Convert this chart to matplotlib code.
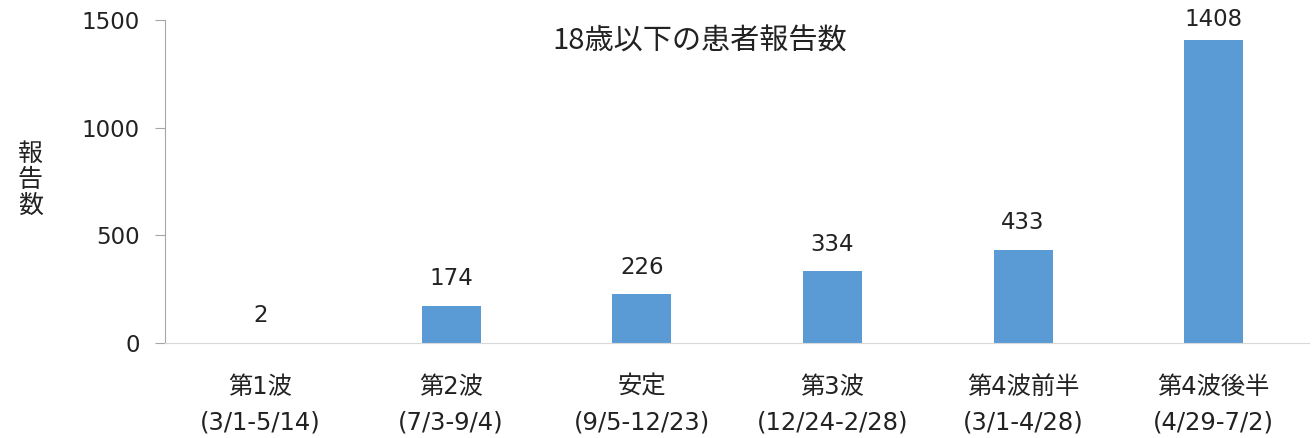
import matplotlib
matplotlib.use('Agg')
import matplotlib.pyplot as plt

plt.rcParams['font.family'] = ['DejaVu Sans', 'Noto Sans CJK JP']

# データ
periods = ['第1波', '第2波', '安定', '第3波', '第4波前半', '第4波後半']
ranges = ['(3/1-5/14)', '(7/3-9/4)', '(9/5-12/23)', '(12/24-2/28)', '(3/1-4/28)', '(4/29-7/2)']
counts = [2, 174, 226, 334, 433, 1408]

fig = plt.figure(figsize=(13.12, 4.38), dpi=100)
ax = fig.add_axes([0.1258, 0.217, 0.872, 0.737])

x = list(range(len(counts)))
ax.bar(x, counts, width=0.31, color='#5b9bd5')

# ラベルはプロット領域内に収める
for xi, v in zip(x, counts):
    ax.text(xi, min(v + 72, 1450), str(v), ha='center', va='bottom',
            fontsize=16.5, color='#222222')

ax.set_xlim(-0.5, len(counts) - 0.5)
ax.set_ylim(0, 1500)
ax.set_yticks([0, 500, 1000, 1500])
ax.tick_params(axis='y', labelsize=16.5, length=7, color='#a6a6a6', pad=11,
               labelcolor='#222222')
ax.set_xticks(x)
ax.set_xticklabels([p + '\n' + r for p, r in zip(periods, ranges)],
                   fontsize=17.5, linespacing=1.6, color='#222222')
ax.tick_params(axis='x', length=0, pad=23)

ax.spines['top'].set_visible(False)
ax.spines['right'].set_visible(False)
ax.spines['left'].set_color('#a6a6a6')
ax.spines['bottom'].set_color('#d9d9d9')

ax.text(0.467, 0.935, '18歳以下の患者報告数', transform=ax.transAxes,
        ha='center', va='center', fontsize=21, family=['Noto Sans CJK JP', 'DejaVu Sans'],
        color='#222222')

fig.text(0.023, 0.59, '報\n告\n数', ha='center', va='center', fontsize=18,
         linespacing=1.0, family=['Noto Sans CJK JP', 'DejaVu Sans'], color='#222222')

fig.savefig('out.png', dpi=100)
